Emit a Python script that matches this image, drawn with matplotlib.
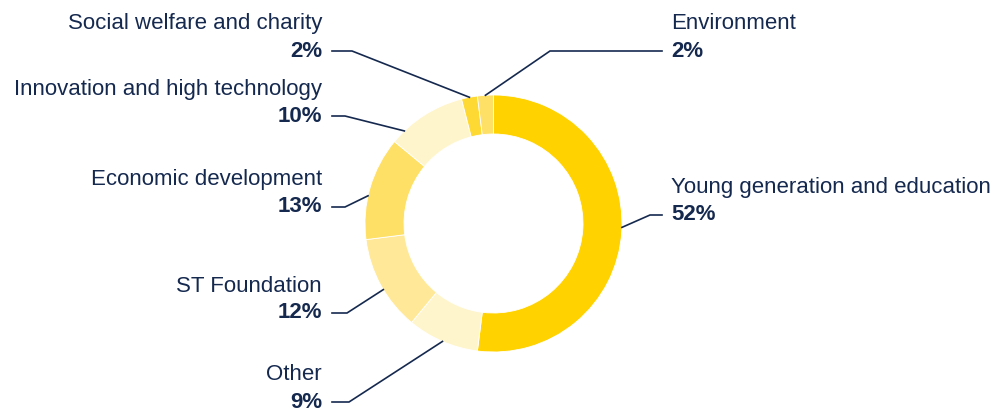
import numpy as np
import matplotlib.pyplot as plt

# donation split, clockwise from 12 o'clock
categories = ['Young generation and education', 'Other', 'ST Foundation',
              'Economic development', 'Innovation and high technology',
              'Social welfare and charity', 'Environment']
shares = [52, 9, 12, 13, 10, 2, 2]
colors = ['#FFD200', '#FFF5CC', '#FFE999', '#FFE066', '#FFF5CC', '#FFD933', '#FFE066']

navy = '#15294F'
H = 412  # pixel height, labels placed in pixel coords (from top)

fig = plt.figure(figsize=(9.95, 4.12), dpi=100)
ax = fig.add_axes([0, 0, 1, 1])

cx, cy, R, w = 493.5, H - 223.5, 128.5, 39
ax.pie(shares, colors=colors, startangle=90, counterclock=False,
       center=(cx, cy), radius=R,
       wedgeprops=dict(width=w, edgecolor='white', linewidth=0.6))

ax.set_xlim(0, 995)
ax.set_ylim(0, H)
ax.set_aspect('equal')
ax.axis('off')

# label layout: (side, name y, pct y, elbow x, where the leader hits the wedge)
layout = {
    'Young generation and education': ('r', 187, 215, 650, 0.49),
    'Other': ('l', 375, 402, 349, 0.5),
    'ST Foundation': ('l', 286, 313, 347, 0.45),
    'Economic development': ('l', 179, 207, 345, 0.42),
    'Innovation and high technology': ('l', 89, 116, 345, 0.18),
    'Social welfare and charity': ('l', 23, 51, 352, 0.5),
    'Environment': ('r', 23, 51, 550, 0.5),
}

cum = np.cumsum([0] + shares)
for i, cat in enumerate(categories):
    side, ny, py, ex, frac = layout[cat]
    ang = 90 - 360 * (cum[i] + frac * shares[i]) / 100
    ax_ = cx + R * np.cos(np.radians(ang))
    ay_ = cy + R * np.sin(np.radians(ang))
    if side == 'l':
        tx, ha, lx = 322, 'right', 332
    else:
        tx, ha, lx = 671, 'left', 662
    ax.text(tx, H - ny, cat, ha=ha, va='center', fontsize=16,
            family='Liberation Sans', color=navy)
    ax.text(tx, H - py, f'{shares[i]}%', ha=ha, va='center', fontsize=16,
            family='Liberation Sans', fontweight='bold', color=navy)
    ax.plot([lx, ex, ax_], [H - py, H - py, ay_], color=navy, lw=1.2,
            solid_joinstyle='miter')

fig.savefig('out.png', dpi=100)
